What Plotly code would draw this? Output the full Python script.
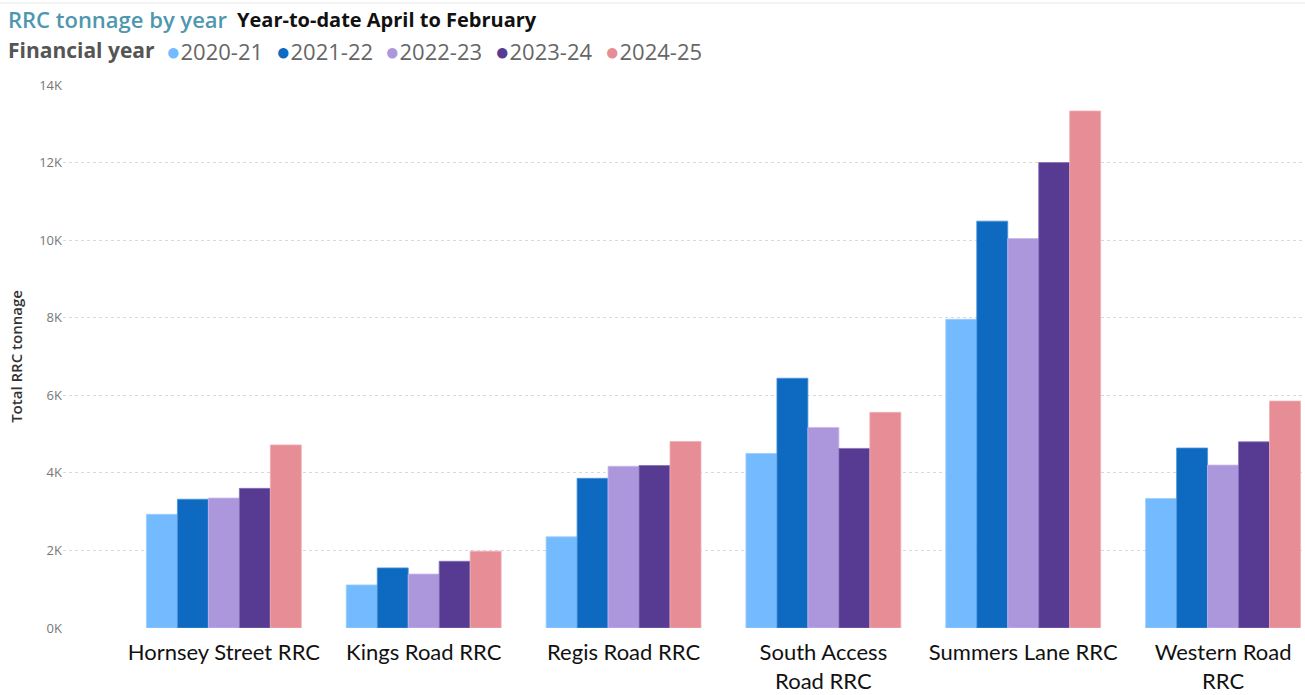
import plotly.graph_objects as go

categories = ["Hornsey Street RRC", "Kings Road RRC", "Regis Road RRC",
              "South Access<br>Road RRC", "Summers Lane RRC", "Western Road<br>RRC"]
years = ["2020-21", "2021-22", "2022-23", "2023-24", "2024-25"]
v_2020_21 = [2930, 1110, 2350, 4500, 7960, 3340]
v_2021_22 = [3320, 1550, 3860, 6440, 10490, 4640]
v_2022_23 = [3350, 1390, 4170, 5170, 10040, 4200]
v_2023_24 = [3600, 1720, 4190, 4630, 12000, 4800]
v_2024_25 = [4720, 1980, 4810, 5560, 13330, 5850]
series = [v_2020_21, v_2021_22, v_2022_23, v_2023_24, v_2024_25]
colors = ["#74BAFF", "#0E6AC1", "#AD97DC", "#573A92", "#E68D95"]
edge = ["#9ACCFF", "#4C93D8", "#C7B8EA", "#8470B5", "#F0B0B6"]
ytick_vals = [0, 2000, 4000, 6000, 8000, 10000, 12000, 14000]
ytick_text = ["0K", "2K", "4K", "6K", "8K", "10K", "12K", "14K"]

W, H = 1305, 695
ML, MR, MT, MB = 63, 0, 85, 67

fig = go.Figure()
for yr, vals, c, e in zip(years, series, colors, edge):
    fig.add_trace(go.Bar(x=categories, y=vals, name=yr, marker_color=c,
                         marker_line=dict(color=e, width=0.8), showlegend=False))

fig.update_layout(
    width=W, height=H,
    barmode="group", bargap=0.225, bargroupgap=0,
    plot_bgcolor="white", paper_bgcolor="white",
    margin=dict(l=ML, r=MR, t=MT, b=MB, autoexpand=False),
    font=dict(family="Open Sans, sans-serif", color="#333"),
    xaxis=dict(range=[-0.805, 5.41], showgrid=False, showline=False, automargin=False,
               ticks="outside", ticklen=5, tickcolor="rgba(0,0,0,0)",
               tickfont=dict(family="Lato", size=22, color="#111")),
    yaxis=dict(range=[0, 14000], tickvals=ytick_vals, ticktext=ytick_text,
               showgrid=True, gridcolor="#d9d9d9", griddash="dot", gridwidth=1,
               zeroline=False, showline=False, automargin=False,
               tickfont=dict(family="Open Sans", size=13, color="#777"),
               title=dict(text="Total RRC tonnage", standoff=12,
                          font=dict(family="Open Sans", size=15, color="#333", weight=600))),
)


def px_x(p):
    return (p - ML) / (W - ML - MR)


def px_y(p):
    return (H - MB - p) / (H - MT - MB)


fig.add_annotation(
    x=px_x(6), y=px_y(19), xref="paper", yref="paper", showarrow=False,
    text="<span style='color:#4F97AF'>RRC tonnage by year</span>",
    font=dict(family="Open Sans", size=22, weight=600),
    xanchor="left", yanchor="middle")
fig.add_annotation(
    x=px_x(235), y=px_y(20), xref="paper", yref="paper", showarrow=False,
    text="<b>Year-to-date April to February</b>",
    font=dict(family="Open Sans", size=20, color="#111"),
    xanchor="left", yanchor="middle")
fig.add_annotation(
    x=px_x(6), y=px_y(50), xref="paper", yref="paper", showarrow=False,
    text="<b>Financial year</b>",
    font=dict(family="Open Sans", size=21, color="#555"),
    xanchor="left", yanchor="middle")
legend_x = [164, 274, 383, 493, 603]
for yr, c, lx in zip(years, colors, legend_x):
    fig.add_annotation(
        x=px_x(lx), y=px_y(50), xref="paper", yref="paper", showarrow=False,
        text=f"<span style='color:{c};font-size:24px'>●</span>{yr}",
        font=dict(family="Open Sans", size=22, color="#666"),
        xanchor="left", yanchor="middle")

fig.add_shape(type="line", xref="paper", yref="paper",
              x0=px_x(0), x1=px_x(W), y0=px_y(3), y1=px_y(3),
              line=dict(color="#e6e6e6", width=1))

fig.write_html("out.html", config={"displayModeBar": False},
               post_script="document.body.style.margin='0';document.body.style.padding='0';")
